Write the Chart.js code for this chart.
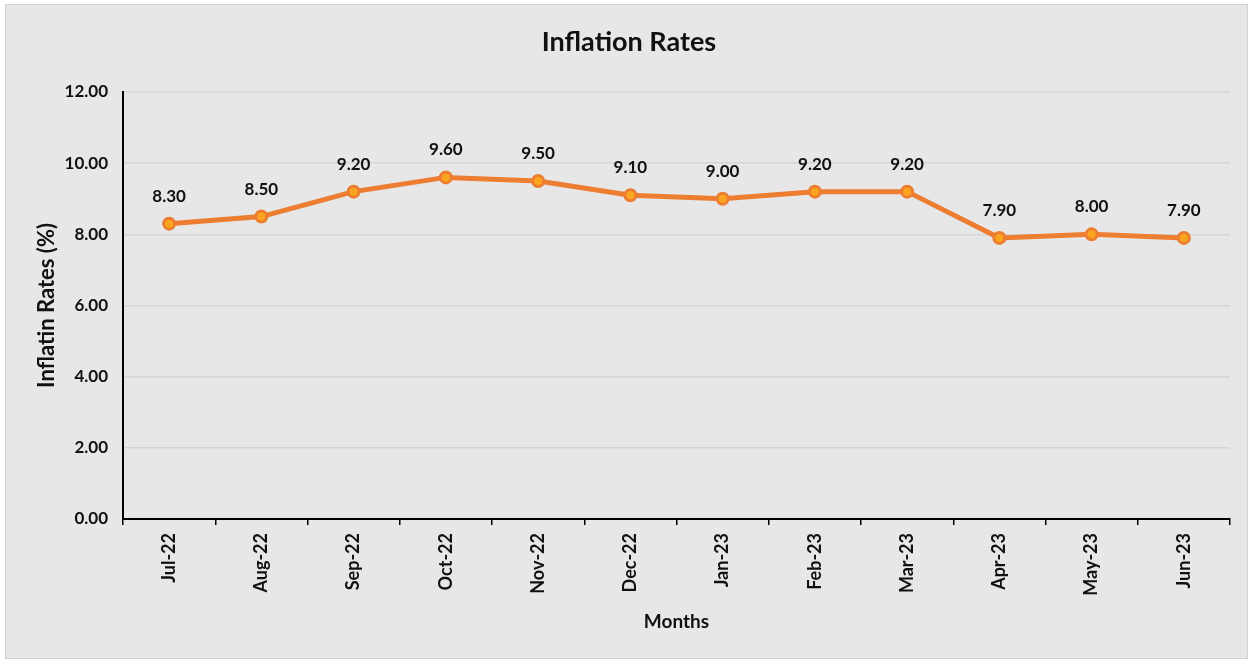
<!DOCTYPE html>
<html>
<head>
<meta charset="utf-8">
<script src="https://cdn.jsdelivr.net/npm/chart.js@4.4.1/dist/chart.umd.min.js"></script>
<style>
  html, body { margin: 0; padding: 0; background: #ffffff; width: 1250px; height: 662px; overflow: hidden; }
  #frame { position: absolute; left: 5px; top: 4px; width: 1243px; height: 655px; background: #e7e7e7; border: 1px solid #d2d2d2; box-sizing: border-box; }
  #c { position: absolute; left: 0; top: 0; }
</style>
</head>
<body>
<div id="frame"></div>
<canvas id="c" width="1250" height="662"></canvas>
<script>
const months = ["Jul-22","Aug-22","Sep-22","Oct-22","Nov-22","Dec-22","Jan-23","Feb-23","Mar-23","Apr-23","May-23","Jun-23"];
const inflationRates = [8.3, 8.5, 9.2, 9.6, 9.5, 9.1, 9.0, 9.2, 9.2, 7.9, 8.0, 7.9];
const yTicks = [0, 2, 4, 6, 8, 10, 12];

const FONT = "Lato, 'Open Sans', sans-serif";

const valueLabels = {
  id: 'valueLabels',
  afterDatasetsDraw(chart) {
    const ctx = chart.ctx;
    const meta = chart.getDatasetMeta(0);
    const data = chart.data.datasets[0].data;
    ctx.save();
    ctx.font = "bold 17px " + FONT;
    ctx.fillStyle = '#111111';
    ctx.textAlign = 'center';
    ctx.textBaseline = 'middle';
    meta.data.forEach((pt, i) => {
      ctx.fillText(Number(data[i]).toFixed(2), pt.x, pt.y - 27.5);
    });
    ctx.restore();
  }
};

const titleShift = {
  id: 'titleShift',
  afterLayout(chart) {
    const tb = chart.titleBlock;
    if (tb) { tb.left += 14; tb.right += 14; }
  }
};

new Chart(document.getElementById('c'), {
  type: 'line',
  data: {
    labels: months,
    datasets: [{
      data: inflationRates,
      borderColor: '#ED7D31',
      borderWidth: 5,
      pointRadius: 5.5,
      pointHoverRadius: 5.5,
      pointBorderWidth: 3,
      pointBorderColor: '#ED7D31',
      pointBackgroundColor: '#F9A51E',
      tension: 0,
      fill: false
    }]
  },
  options: {
    responsive: false,
    animation: false,
    events: [],
    layout: { padding: { top: 0, left: 0, right: 20, bottom: 0 } },
    plugins: {
      legend: { display: false },
      tooltip: { enabled: false },
      title: {
        display: true,
        text: 'Inflation Rates',
        color: '#111111',
        font: { family: FONT, size: 27, weight: 'bold', lineHeight: 1.2 },
        padding: { top: 26.3, bottom: 33.3 }
      }
    },
    scales: {
      x: {
        type: 'category',
        offset: true,
        grid: { display: true, drawOnChartArea: false, drawTicks: true, tickLength: 6, color: '#000000', lineWidth: 1.5, offset: true },
        border: { display: true, color: '#000000', width: 2 },
        ticks: {
          color: '#111111',
          font: { family: FONT, size: 18, weight: 'bold' },
          minRotation: 90, maxRotation: 90,
          padding: 8,
          autoSkip: false
        },
        title: {
          display: true,
          text: 'Months',
          color: '#111111',
          font: { family: FONT, size: 19, weight: 'bold', lineHeight: 1.2 },
          padding: { top: 0, bottom: 28.6 }
        },
        afterFit(scale) { scale.height = 143; }
      },
      y: {
        min: 0, max: 12,
        afterBuildTicks(scale) { scale.ticks = yTicks.map(v => ({ value: v })); },
        grid: { color: '#d5d5d5', lineWidth: 1.5, drawTicks: false },
        border: { display: true, color: '#000000', width: 2 },
        ticks: {
          color: '#111111',
          font: { family: FONT, size: 17, weight: 'bold' },
          padding: 15,
          callback: v => Number(v).toFixed(2)
        },
        title: {
          display: true,
          text: 'Inflatin Rates (%)',
          color: '#111111',
          font: { family: FONT, size: 22, weight: 'bold', lineHeight: 1.2 },
          padding: { top: 33.3, bottom: 0 }
        },
        afterFit(scale) { scale.width = 123; }
      }
    }
  },
  plugins: [valueLabels, titleShift]
});
</script>
</body>
</html>
